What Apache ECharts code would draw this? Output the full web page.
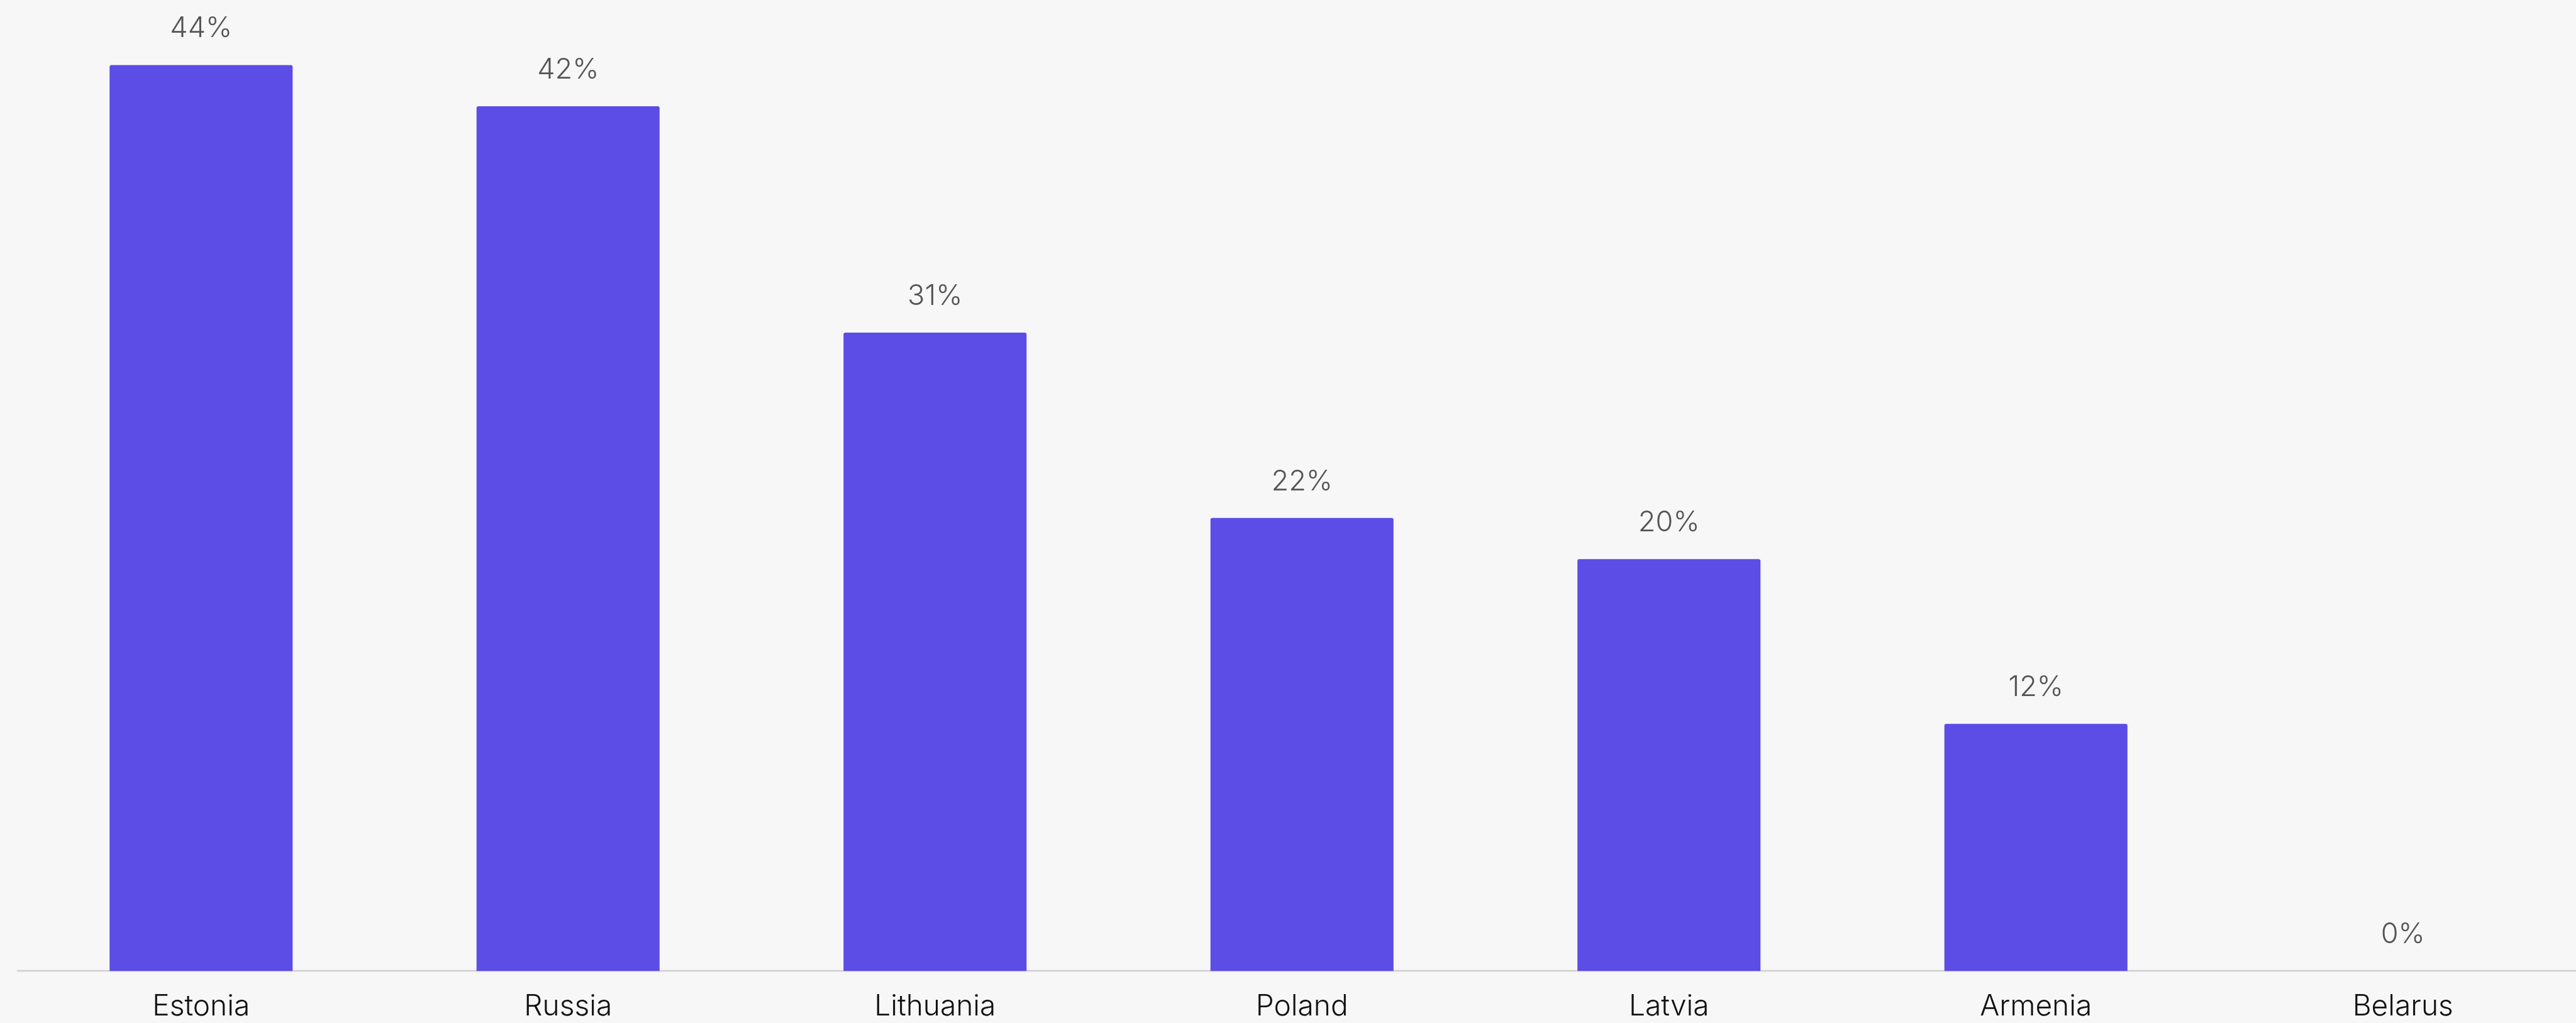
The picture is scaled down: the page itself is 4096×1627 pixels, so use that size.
<!DOCTYPE html>
<html>
<head>
<meta charset="utf-8">
<title>Share by country</title>
<script src="https://cdn.jsdelivr.net/npm/echarts@6/dist/echarts.min.js"></script>
<style>
  html, body { margin: 0; padding: 0; background: #f7f7f7; }
  #chart { width: 4096px; height: 1627px; }
</style>
</head>
<body>
<div id="chart"></div>
<script>
// Countries along the x axis
const countries = ['Estonia', 'Russia', 'Lithuania', 'Poland', 'Latvia', 'Armenia', 'Belarus'];
// Share per country, in percent
const shares = [44, 42, 31, 22, 20, 12, 0];

const S = 0.98; // overall drawing scale
const FONT = 'Inter, "Noto Sans", sans-serif';

const chart = echarts.init(document.getElementById('chart'), null, { renderer: 'canvas' });

chart.setOption({
  backgroundColor: '#f7f7f7',
  animation: false,
  grid: {
    left: 28.6 * S,
    width: 7 * 595.4 * S,
    top: 105.5 * S,
    height: (1575.7 - 105.5) * S,
    containLabel: false,
    // the last band runs past the right edge on purpose
    outerBoundsMode: 'none'
  },
  xAxis: {
    type: 'category',
    data: countries,
    axisLine: { show: true, lineStyle: { color: '#cfcfcf', width: 2.5 * S } },
    axisTick: { show: false },
    splitLine: { show: false },
    axisLabel: {
      color: '#111111',
      fontFamily: FONT,
      fontWeight: 300,
      fontSize: 47 * S,
      margin: 35 * S
    }
  },
  yAxis: {
    type: 'value',
    min: 0,
    max: 44,
    show: false,
    splitLine: { show: false }
  },
  series: [{
    type: 'bar',
    data: shares,
    barWidth: 297 * S,
    itemStyle: { color: '#5b4de5', borderRadius: [3, 3, 0, 0] },
    label: {
      show: true,
      position: 'top',
      distance: 36 * S,
      color: '#555555',
      fontFamily: FONT,
      fontWeight: 300,
      fontSize: 46 * S,
      formatter: p => p.value + '%'
    }
  }]
});
</script>
</body>
</html>
